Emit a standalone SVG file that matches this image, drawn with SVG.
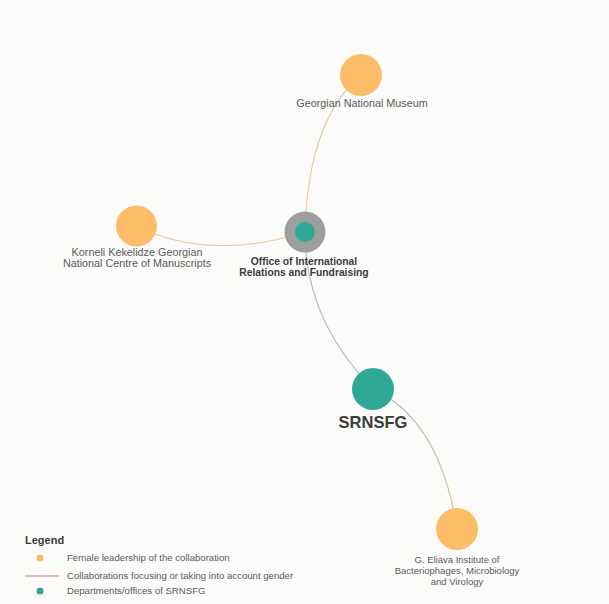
<svg xmlns="http://www.w3.org/2000/svg" width="609" height="604" viewBox="0 0 609 604">
<defs>
<linearGradient id="gE" gradientUnits="userSpaceOnUse" x1="373" y1="389" x2="457" y2="529">
<stop offset="0" stop-color="#8cc3bb"/>
<stop offset="1" stop-color="#e9c48f"/>
</linearGradient>
</defs>
<style>
.lbl{font-family:"Liberation Sans",Arial,sans-serif;font-size:10.8px;fill:#5a5a5a;text-anchor:middle}
.bold{font-weight:bold;fill:#3c3c3c}
.leg{font-family:"Liberation Sans",Arial,sans-serif;font-size:9.6px;fill:#5a5a5a}
.org{fill:#fbbd68}
.teal{fill:#2fa898}
.edge{fill:none;stroke-width:1.2}
</style>
<rect width="609" height="604" fill="#fbfbfa"/>
<g id="connectors">
<path class="edge" d="M305,232 Q308,120 361,75" stroke="#e3cba6"/>
<path class="edge" d="M136,226 Q210,262 305,232" stroke="#ecc9a0"/>
<path class="edge" d="M305,232 Q305,320 373,389" stroke="#aec2c6"/>
<path class="edge" d="M373,389 Q440,420 457,529" stroke="url(#gE)"/>
</g>
<g id="museum">
<circle class="org" cx="361" cy="75" r="21"/>
<text class="lbl" x="362" y="107">Georgian National Museum</text>
</g>
<g id="korneli">
<circle class="org" cx="136.5" cy="226" r="20.5"/>
<text class="lbl" x="137" y="256">Korneli Kekelidze Georgian</text>
<text class="lbl" x="137" y="267">National Centre of Manuscripts</text>
</g>
<g id="office">
<circle cx="305" cy="232" r="20.5" fill="#9e9d9f"/>
<circle class="teal" cx="305" cy="232" r="10"/>
<text class="lbl bold" x="304" y="265" style="font-size:10.3px">Office of International</text>
<text class="lbl bold" x="304" y="276" style="font-size:10.3px">Relations and Fundraising</text>
</g>
<g id="srnsfg">
<circle class="teal" cx="373" cy="389" r="21"/>
<text class="lbl bold" x="373" y="428" style="font-size:16.5px">SRNSFG</text>
</g>
<g id="eliava">
<circle class="org" cx="457" cy="529" r="21"/>
<text class="lbl" x="457" y="563" style="font-size:9.5px">G. Eliava Institute of</text>
<text class="lbl" x="457" y="574" style="font-size:9.5px">Bacteriophages, Microbiology</text>
<text class="lbl" x="457" y="585" style="font-size:9.5px">and Virology</text>
</g>
<g id="legend">
<text x="25" y="544" style="font-family:'Liberation Sans',Arial,sans-serif;font-size:11px;font-weight:bold;fill:#3c3c3c">Legend</text>
<circle class="org" cx="40" cy="558" r="3.5"/>
<text class="leg" x="67" y="561">Female leadership of the collaboration</text>
<line x1="25" y1="576" x2="59" y2="576" stroke="#d9737f" stroke-width="1"/>
<text class="leg" x="67" y="579">Collaborations focusing or taking into account gender</text>
<circle cx="40" cy="591" r="3.5" fill="#3f9e95"/>
<text class="leg" x="67" y="594">Departments/offices of SRNSFG</text>
</g>
</svg>
